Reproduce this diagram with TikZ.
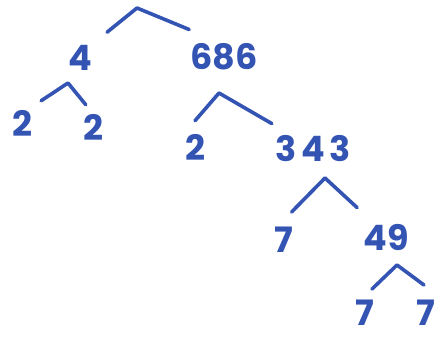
\documentclass[tikz,border=0pt]{standalone}
\usepackage{fontspec}
\setsansfont{Poppins}
\usepackage{tikz}
\definecolor{inkBlue}{HTML}{3454B4}

\begin{document}
\begin{tikzpicture}[x=1pt,y=-1pt,
    num/.style={text=inkBlue, inner sep=3pt, font=\sffamily\bfseries\fontsize{35}{37}\selectfont},
    branch/.style={inkBlue, line width=3.6pt, line cap=round, line join=round}]
    \useasboundingbox (0,0) rectangle (440,341);

    % numbers
    \node[num] (four) at (80,58) {4};
    \node[num] (sixEightSix) at (224,57) {686};
    \node[num] (twoA) at (22,123) {2};
    \node[num] (twoB) at (93,127) {2};
    \node[num] (twoC) at (195,147) {2};
    \node[num] (threeFourThree) at (313,149) {\addfontfeature{LetterSpace=14}343};
    \node[num] (sevenA) at (284,240) {7};
    \node[num] (fortyNine) at (386,237) {49};
    \node[num] (sevenB) at (365,313) {7};
    \node[num] (sevenC) at (426,313) {7};

    % apexes of the branches
    \coordinate (topW) at (137,8);
    \coordinate (fourW) at (68,83);
    \coordinate (sixW) at (219,93);
    \coordinate (threeW) at (325,178);
    \coordinate (nineW) at (397,265);

    \draw[branch] ([xshift=12pt,yshift=10pt]four.north east) -- (topW)
        -- ([xshift=2pt,yshift=11pt]sixEightSix.north west);
    \draw[branch] ([xshift=6pt,yshift=6pt]twoA.north east) -- (fourW)
        -- ([xshift=6pt,yshift=6pt]twoB.north west);
    \draw[branch] ([yshift=10pt]twoC.north) -- (sixW)
        -- ([xshift=0pt,yshift=9pt]threeFourThree.north west);
    \draw[branch] ([xshift=-5pt,yshift=12pt]sevenA.north east) -- (threeW)
        -- ([xshift=-3pt,yshift=13pt]fortyNine.north west);
    \draw[branch] ([xshift=7pt,yshift=8pt]sevenB.north) -- (nineW)
        -- ([xshift=-2pt,yshift=12pt]sevenC.north);
\end{tikzpicture}
\end{document}
